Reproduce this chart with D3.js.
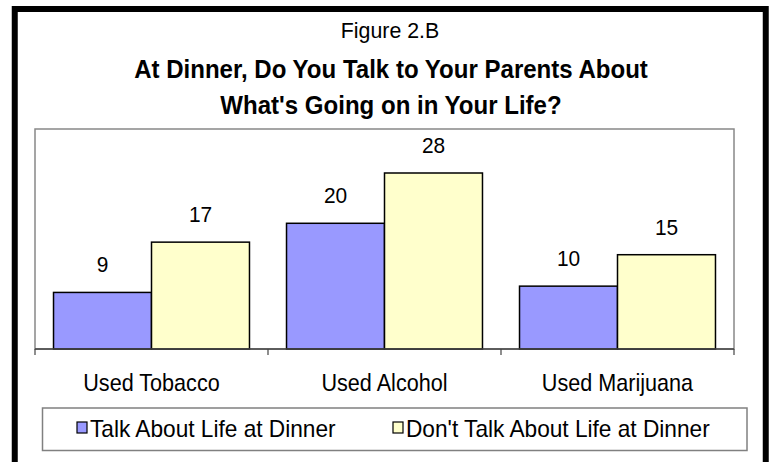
<!DOCTYPE html>
<html><head><meta charset="utf-8">
<script src="https://cdn.jsdelivr.net/npm/d3@7"></script>
<style>body{margin:0;background:#fff}svg{display:block}text{font-family:Arial,"Liberation Sans",sans-serif}</style>
</head><body><svg id="c" width="773" height="462"></svg>
<script>
const categories = ["Used Tobacco", "Used Alcohol", "Used Marijuana"];
const seriesNames = ["Talk About Life at Dinner", "Don't Talk About Life at Dinner"];
const talkValues = [9, 20, 10];
const dontTalkValues = [17, 28, 15];
const seriesColors = ["#9999FF", "#FFFFCC"];
const figureLabel = "Figure 2.B";
const titleLines = ["At Dinner, Do You Talk to Your Parents About", "What's Going on in Your Life?"];

const svg = d3.select("#c");
const plot = {l: 35, r: 734, t: 129, b: 349};

function sText(parent, x, y, str, size, sx, anchor, weight) {
  return parent.append("text")
    .attr("transform", `translate(${x},${y}) scale(${sx},1)`)
    .attr("text-anchor", anchor || "start")
    .attr("font-size", size)
    .attr("font-weight", weight || "normal")
    .text(str);
}

// outer frame
svg.append("rect").attr("x", 14.75).attr("y", 9).attr("width", 751).attr("height", 520)
  .attr("fill", "none").attr("stroke", "#000").attr("stroke-width", 6);

// titles
sText(svg, 390, 38, figureLabel, 22, 0.97, "middle");
titleLines.forEach((t, i) => {
  sText(svg, 391, 78 + i * 36, t, 26, 0.925, "middle", "bold");
});

// plot border
svg.append("rect").attr("x", plot.l).attr("y", plot.t).attr("width", plot.r - plot.l).attr("height", plot.b - plot.t)
  .attr("fill", "none").attr("stroke", "#888").attr("stroke-width", 1.5);

const x0 = d3.scaleBand().domain(categories).range([plot.l, plot.r]).padding(0);
const x1 = d3.scaleBand().domain(seriesNames).range([0, x0.bandwidth()]).paddingInner(0).paddingOuter(0.189);
const y = d3.scaleLinear().domain([0, 35]).range([plot.b, plot.t]);

const data = categories.map((c, i) => ({cat: c, vals: [talkValues[i], dontTalkValues[i]]}));

const g = svg.append("g");
data.forEach(d => {
  d.vals.forEach((v, j) => {
    const xx = x0(d.cat) + x1(seriesNames[j]);
    g.append("rect").attr("x", xx).attr("y", y(v)).attr("width", x1.bandwidth()).attr("height", y(0) - y(v))
      .attr("fill", seriesColors[j]).attr("stroke", "#000").attr("stroke-width", 1.5);
    sText(g, xx + x1.bandwidth() / 2, y(v) - 20, String(v), 22, 0.95, "middle");
  });
});

// x axis
const xAxis = d3.axisBottom(x0).tickSize(0).tickPadding(0);
const ax = svg.append("g").attr("transform", `translate(0,${plot.b})`).call(xAxis);
ax.select(".domain").remove();
ax.selectAll("text").attr("font-size", 24).attr("dy", null).attr("y", 42).attr("fill", "#000")
  .attr("transform", "scale(0.9,1)")
  .style("font-family", "Arial, 'Liberation Sans', sans-serif");
svg.append("line").attr("x1", plot.l).attr("x2", plot.r).attr("y1", plot.b).attr("y2", plot.b)
  .attr("stroke", "#444").attr("stroke-width", 1.5);
const tickXs = categories.map(c => x0(c)).concat([plot.r]);
tickXs.forEach(tx => {
  svg.append("line").attr("x1", tx).attr("x2", tx).attr("y1", plot.b).attr("y2", plot.b + 6)
    .attr("stroke", "#444").attr("stroke-width", 1.2);
});

// legend
svg.append("rect").attr("x", 42.5).attr("y", 408).attr("width", 704.5).attr("height", 42.5)
  .attr("fill", "#fff").attr("stroke", "#808080").attr("stroke-width", 1.5);
const legX = [77, 393];
seriesNames.forEach((s, j) => {
  svg.append("rect").attr("x", legX[j]).attr("y", 422).attr("width", 10).attr("height", 11)
    .attr("fill", seriesColors[j]).attr("stroke", "#000").attr("stroke-width", 1.2);
  sText(svg, legX[j] + 13, 437, s, 24, 0.945, "start");
});
</script></body></html>
